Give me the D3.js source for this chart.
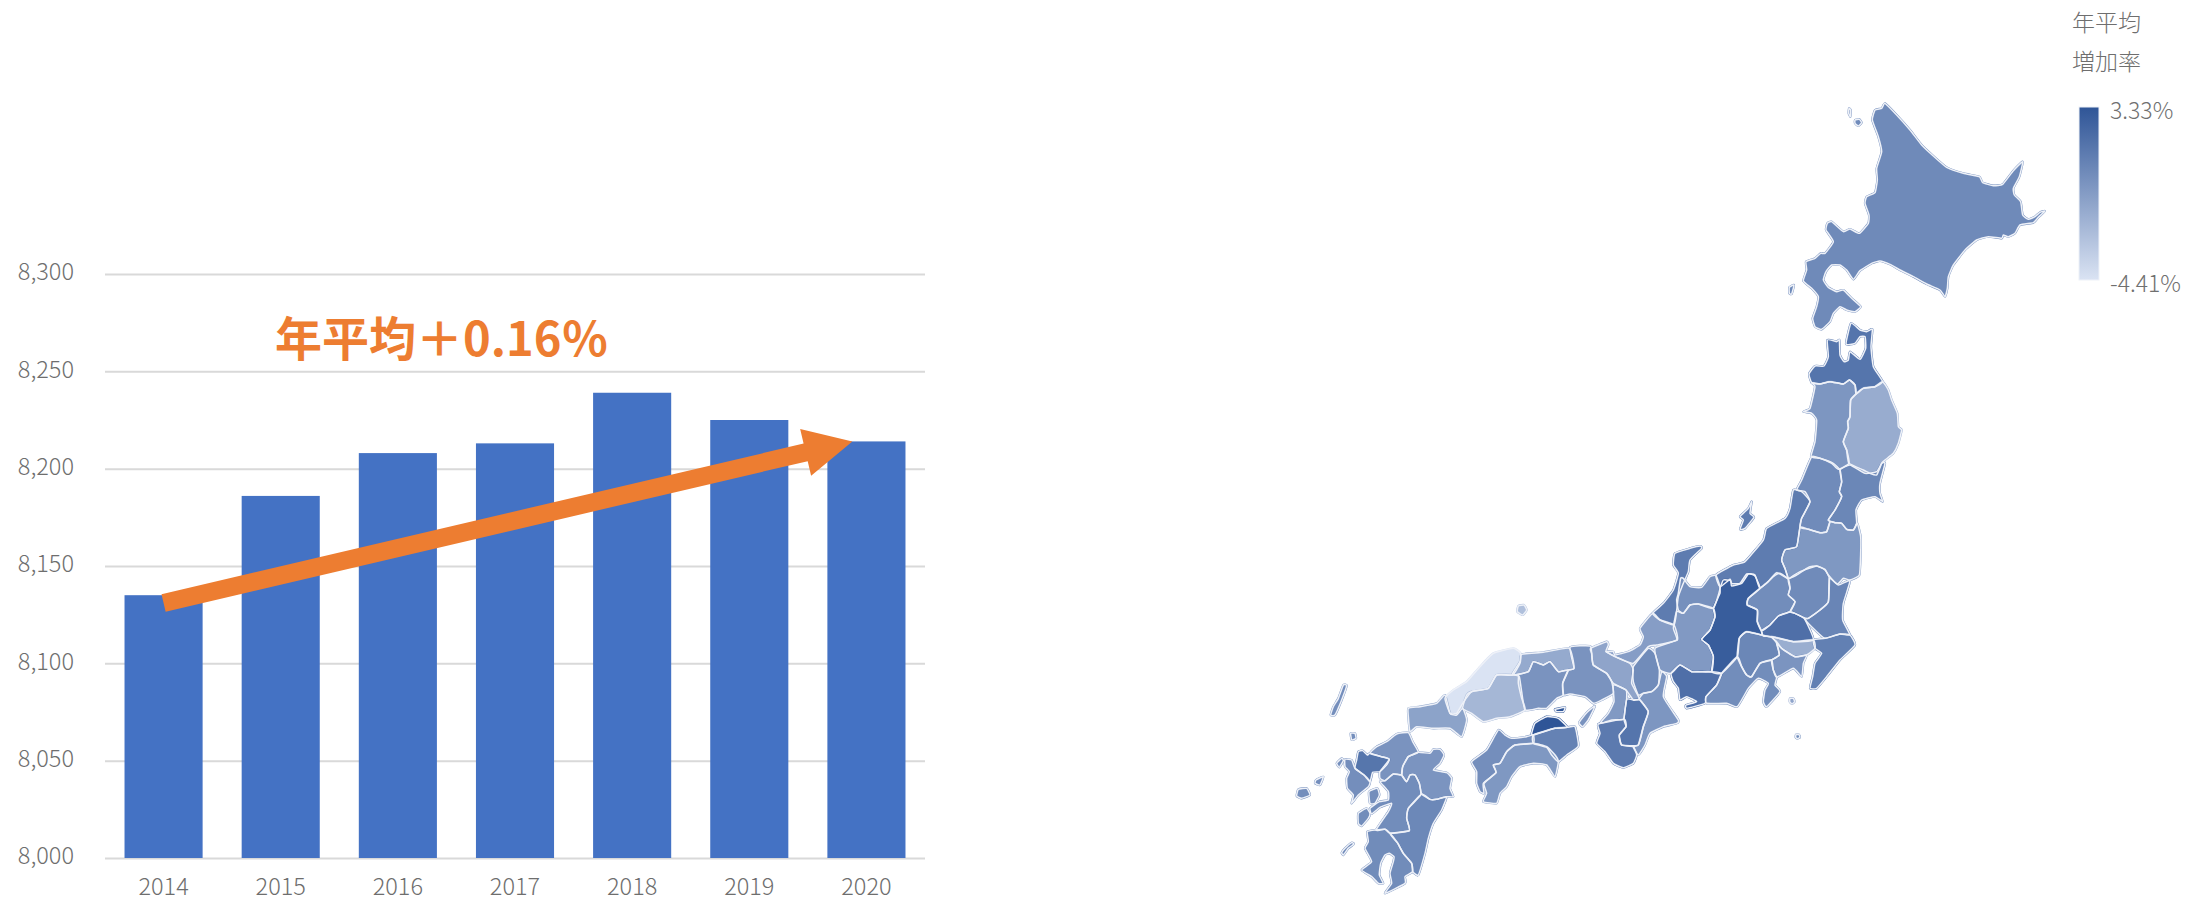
<!DOCTYPE html>
<html lang="ja"><head><meta charset="utf-8">
<script src="https://cdn.jsdelivr.net/npm/d3@7"></script>
<style>html,body{margin:0;padding:0;background:#fff;overflow:hidden}svg{display:block}
text{font-family:"Noto Sans CJK JP","Noto Sans",sans-serif}</style></head><body>
<svg id="c" width="2187" height="902"></svg>
<script>
// ---------- bar chart data ----------
const years=["2014","2015","2016","2017","2018","2019","2020"];
const visitors=[8135,8186,8208,8213,8239,8225,8214];
const yTicks=[8000,8050,8100,8150,8200,8250,8300];
const trendLabel="年平均＋0.16％";
const trendFrom=[0,8131], trendTo=[5.88,8214];
// ---------- map data (outlines traced in 3x sheets, each with its own shift) ----------
const legendTitle=["年平均","増加率"];
const legendLabels=["3.33%","-4.41%"];
const rateDomain=[-4.41,3.33];
const sheetShift={n:[600,-1080],m:[0,0],s:[-660,540],k:[-630,840],w:[-60,540],e:[480,360]};
const prefNames=["北海道","青森","秋田","岩手","山形","宮城","福島","新潟","佐渡","石川","富山","福井","岐阜","長野","群馬","栃木","茨城","埼玉","東京","千葉","神奈川","山梨","静岡","愛知","島根","鳥取","岡山","広島","山口","兵庫","淡路","京都","滋賀","大阪","奈良","和歌山","三重","香川","小豆島","徳島","愛媛","高知","福岡","佐賀","長崎","島原","対馬","壱岐","五島","五島2","平戸","大分","熊本","天草","宮崎","鹿児島","種子島","利尻","礼文","奥尻","隠岐","大島","八丈"];
const prefRates=[0.43,1.6,-0.2,-1.4,0.4,0.6,-0.3,1.2,1.2,1.2,0.1,-0.6,-0.4,2.9,0.3,0.4,0.7,1.9,-1.5,1.0,-0.1,0.6,0.3,1.9,-4.41,-1.3,-0.05,-2.0,-0.9,-0.05,-0.05,-1.0,0.35,-0.4,1.6,1.3,-0.2,3.33,3.33,0.9,0.2,-0.3,-0.05,1.55,0.2,0.2,0.2,0.2,0.2,0.2,0.2,-0.1,0.3,0.3,0.55,0.35,0.35,0.4,0.4,0.4,-2.5,-1.0,0.3];
const prefSheets=["n","n","n","n","m","m","m","m","m","m","e","m","e","e","e","e","e","e","e","e","e","e","e","e","s","w","w","s","s","w","w","w","w","w","w","w","w","w","w","w","s","s","k","k","k","k","s","k","k","k","k","k","k","k","k","k","k","n","n","n","m","m","m"];
const prefOutlines=[
[[555,70],[590,105],[630,150],[665,195],[700,228],[740,262],[790,280],[838,290],[848,308],[880,317],[908,313],[940,272],[968,245],[958,290],[940,325],[943,345],[962,365],[968,405],[985,418],[1005,410],[1020,397],[1035,393],[1015,412],[1000,428],[960,435],[945,460],[925,470],[910,465],[905,475],[865,470],[830,480],[795,510],[760,555],[745,590],[742,625],[735,650],[720,630],[680,612],[640,590],[600,570],[570,553],[540,543],[515,550],[480,572],[460,598],[440,570],[420,555],[395,555],[378,575],[370,600],[385,622],[410,635],[430,630],[455,655],[482,680],[465,695],[440,690],[420,680],[400,700],[390,725],[365,748],[345,740],[338,715],[350,680],[355,650],[335,625],[310,603],[320,570],[318,545],[345,535],[362,520],[375,520],[400,485],[378,450],[382,430],[395,425],[430,455],[450,447],[478,460],[505,430],[507,405],[495,370],[500,350],[525,338],[532,300],[530,265],[545,215],[535,170],[517,120],[525,90],[545,85]],
[[453,730],[480,750],[500,755],[517,748],[513,800],[520,860],[548,905],[525,920],[490,925],[468,942],[465,915],[448,900],[430,912],[390,905],[360,912],[335,908],[327,882],[345,858],[372,858],[385,830],[382,780],[410,785],[418,780],[420,825],[432,845],[445,840],[450,815],[480,838],[497,805],[495,770],[480,770],[465,790],[438,792]],
[[335,908],[360,912],[390,905],[430,912],[448,900],[465,915],[468,942],[452,960],[450,1010],[443,1025],[445,1045],[430,1085],[440,1110],[447,1150],[415,1168],[395,1150],[360,1135],[333,1130],[345,1085],[350,1020],[335,1000],[310,995],[330,985],[345,920]],
[[468,942],[490,925],[525,920],[548,905],[565,930],[575,960],[592,1000],[595,1040],[605,1050],[595,1090],[580,1120],[555,1140],[545,1150],[530,1185],[510,1180],[490,1170],[447,1150],[440,1110],[430,1085],[445,1045],[443,1025],[450,1010],[452,960]],
[[935,50],[960,55],[1000,70],[1020,90],[1025,125],[1018,155],[1025,170],[1005,210],[985,240],[990,245],[980,275],[960,278],[925,268],[900,262],[905,235],[930,185],[915,155],[890,150],[905,120]],
[[1020,90],[1050,75],[1095,100],[1130,95],[1145,70],[1155,70],[1140,130],[1140,160],[1148,185],[1125,170],[1085,180],[1068,210],[1070,250],[1060,270],[1040,268],[1025,250],[1005,248],[985,240],[1005,210],[1025,170],[1018,155],[1025,125]],
[[900,262],[925,268],[960,278],[980,275],[990,245],[1005,248],[1025,250],[1040,268],[1060,270],[1072,250],[1082,290],[1082,340],[1078,405],[1050,420],[1030,415],[1012,432],[985,405],[975,388],[950,378],[925,382],[890,405],[865,415],[855,385],[845,360],[855,330],[890,320]],
[[880,150],[905,155],[930,185],[905,235],[900,262],[890,320],[855,330],[845,360],[855,385],[865,415],[840,400],[820,410],[780,445],[765,405],[740,402],[720,430],[695,430],[690,418],[660,440],[648,405],[700,375],[735,365],[790,300],[800,265],[855,235],[870,205]],
[[755,185],[750,220],[762,232],[735,265],[720,268],[730,240],[720,230],[745,205]],
[[600,318],[605,325],[570,360],[565,395],[550,430],[535,470],[530,512],[522,555],[480,540],[458,520],[490,490],[520,450],[535,400],[520,375],[525,340],[570,325]],
[[55,100],[62,55],[70,55],[90,80],[125,82],[150,50],[168,47],[180,85],[160,145],[115,132],[90,135],[70,160],[55,150],[50,120]],
[[458,520],[480,540],[522,555],[532,600],[470,615],[445,620],[400,670],[350,652],[318,635],[340,635],[345,645],[385,635],[420,615],[430,590],[420,565]],
[[70,160],[90,135],[115,132],[160,145],[165,170],[150,210],[125,238],[145,255],[160,290],[155,335],[120,335],[95,335],[60,315],[33,340],[0,330],[-15,265],[50,240],[40,205],[50,155]],
[[180,85],[190,60],[212,62],[215,78],[245,70],[265,42],[285,48],[300,85],[265,115],[262,135],[292,150],[292,185],[305,215],[305,225],[260,215],[238,235],[232,290],[185,340],[155,335],[160,290],[145,255],[125,238],[150,210],[165,170],[160,145],[180,100]],
[[300,85],[325,65],[350,38],[385,58],[390,85],[385,105],[405,125],[390,155],[355,168],[330,195],[305,212],[292,185],[292,150],[262,135],[265,115]],
[[385,58],[420,35],[470,18],[495,30],[508,55],[505,125],[480,150],[445,175],[425,170],[405,160],[390,155],[405,125],[385,105],[390,85]],
[[508,55],[535,75],[570,62],[550,130],[548,180],[570,225],[540,222],[495,235],[465,210],[435,178],[445,175],[480,150],[505,125]],
[[305,212],[330,195],[355,168],[390,155],[405,160],[425,170],[435,178],[460,240],[400,245],[335,230],[310,228]],
[[335,230],[400,245],[460,240],[465,265],[440,285],[405,290],[365,265],[350,245]],
[[460,240],[495,235],[540,222],[570,225],[585,255],[540,300],[500,350],[470,385],[450,385],[458,350],[465,310],[485,280],[465,265]],
[[350,250],[365,265],[405,290],[440,285],[430,310],[425,350],[400,325],[350,352],[340,330],[335,300],[358,285]],
[[238,235],[260,215],[305,225],[335,232],[350,250],[358,285],[335,300],[300,310],[275,350],[260,345],[245,320],[232,290]],
[[185,340],[232,290],[245,320],[260,345],[275,350],[300,310],[335,300],[340,330],[350,352],[345,375],[360,395],[320,440],[310,425],[315,390],[325,370],[295,355],[265,385],[232,440],[200,430],[140,430],[138,410],[170,375]],
[[33,340],[60,315],[95,335],[120,335],[155,335],[185,340],[170,375],[138,410],[135,430],[80,445],[78,435],[110,425],[80,410],[60,420],[55,385],[40,365]],
[[700,85],[722,100],[720,130],[698,165],[650,165],[625,205],[575,215],[548,250],[530,280],[510,280],[495,235],[520,210],[560,185],[600,140],[640,100]],
[[125,103],[190,97],[268,85],[282,145],[250,152],[235,155],[210,125],[190,135],[160,125],[145,155],[105,165],[98,160],[120,125]],
[[105,165],[145,155],[160,125],[190,135],[210,125],[235,155],[265,150],[248,190],[250,225],[230,235],[200,265],[175,265],[135,270],[125,215],[118,170]],
[[650,165],[698,165],[715,165],[715,190],[725,235],[735,270],[690,290],[650,295],[610,305],[575,280],[548,265],[560,225],[575,215],[625,205]],
[[495,225],[510,280],[530,285],[548,265],[560,300],[545,350],[510,325],[460,325],[410,320],[390,335],[385,290],[385,265],[420,260],[470,250]],
[[270,82],[330,78],[335,100],[340,135],[380,160],[395,185],[400,220],[365,240],[340,250],[315,230],[270,222],[250,225],[248,190],[265,150],[282,145]],
[[345,258],[325,300],[308,320],[297,308],[320,278]],
[[335,100],[332,85],[380,65],[385,75],[378,95],[410,112],[450,130],[460,150],[455,190],[478,235],[460,240],[438,210],[400,190],[380,160],[340,135]],
[[460,140],[505,85],[525,100],[538,150],[535,195],[515,215],[490,220],[475,225],[460,185]],
[[400,195],[438,210],[440,235],[435,270],[430,298],[395,300],[360,310],[385,280],[402,245]],
[[440,238],[460,240],[480,240],[505,275],[490,320],[475,375],[425,375],[418,345],[438,320],[432,298]],
[[355,312],[432,298],[438,320],[418,345],[425,375],[460,380],[470,405],[460,430],[430,443],[400,430],[375,395],[350,370],[360,340]],
[[545,155],[560,170],[550,230],[595,300],[590,310],[550,320],[510,340],[495,375],[475,405],[460,380],[475,375],[490,320],[505,275],[480,240],[478,235],[490,220],[515,215],[535,195]],
[[155,340],[165,310],[200,290],[235,295],[262,322],[225,325],[160,345]],
[[225,268],[255,262],[250,275],[230,275]],
[[160,345],[225,325],[262,322],[285,320],[295,378],[260,405],[235,425],[215,405],[200,382],[160,370]],
[[575,425],[620,390],[655,330],[675,345],[695,355],[740,350],[760,345],[760,370],[705,375],[680,395],[660,430],[640,435],[648,458],[610,490],[612,520],[600,515],[590,490],[590,455]],
[[760,370],[800,380],[825,405],[835,425],[825,470],[800,435],[760,430],[720,440],[695,470],[680,500],[660,520],[650,550],[610,545],[620,520],[612,490],[648,458],[640,435],[660,430],[680,395],[705,375]],
[[240,100],[260,80],[290,65],[320,42],[355,38],[368,65],[385,97],[355,110],[338,140],[335,165],[310,162],[285,182],[270,175],[270,155],[298,118],[275,110]],
[[205,95],[218,92],[232,105],[240,100],[275,110],[298,118],[290,135],[270,155],[248,157],[240,185],[222,165],[195,145],[200,120]],
[[165,118],[185,120],[195,145],[222,165],[240,185],[235,200],[205,225],[185,250],[190,225],[172,205],[170,175],[178,155],[165,140]],
[[237,215],[262,205],[268,225],[255,250],[240,250]],
[[190,195],[200,197],[185,240],[165,285],[152,285],[160,260],[175,235]],
[[182,40],[195,40],[198,55],[185,60]],
[[25,208],[50,205],[60,225],[35,235],[20,228]],
[[78,180],[100,170],[90,195],[75,190]],
[[140,130],[155,115],[160,122],[148,142]],
[[385,97],[420,100],[430,88],[450,88],[462,105],[450,130],[430,150],[470,158],[485,175],[480,205],[490,230],[470,230],[440,238],[420,238],[395,222],[388,190],[375,165],[360,165],[350,185],[335,165],[338,140],[355,110]],
[[285,182],[310,162],[335,165],[350,185],[360,165],[375,165],[388,190],[392,225],[355,265],[350,295],[358,332],[300,340],[285,328],[258,330],[295,275],[305,250],[270,262],[245,282],[240,265],[268,245],[295,240],[295,215],[270,185]],
[[205,280],[230,265],[240,280],[235,295],[215,318],[205,310]],
[[395,222],[420,238],[440,238],[470,230],[455,270],[430,310],[415,355],[405,400],[385,465],[368,455],[365,430],[340,400],[322,368],[300,340],[358,332],[350,295],[355,265]],
[[232,335],[258,330],[285,328],[300,340],[322,368],[340,400],[365,430],[368,455],[345,470],[345,490],[285,520],[305,490],[300,460],[310,425],[312,410],[298,400],[285,405],[272,430],[268,465],[280,490],[265,490],[245,470],[215,450],[245,425],[225,385],[235,365]],
[[155,398],[165,385],[185,368],[192,372],[175,385],[160,405]],
[[465,120],[478,118],[485,128],[475,138],[465,130]],
[[447,85],[452,90],[451,110],[446,100]],
[[268,622],[282,615],[275,642],[268,640]],
[[55,498],[72,495],[80,510],[68,525],[52,515]],
[[870,775],[880,775],[884,785],[876,792],[869,785]],
[[888,884],[897,884],[900,892],[892,896],[887,892]]
];
// ---------- scales ----------
const svg=d3.select("#c");
const x=d3.scaleBand().domain(years).range([105,925]).paddingInner(1/3).paddingOuter(1/6);
const y=d3.scaleLinear().domain([8000,8300]).range([858,274]);
const idx=d3.scaleLinear().domain([0,6]).range([x(years[0])+x.bandwidth()/2,x(years[6])+x.bandwidth()/2]);
const grey="#6e6e6e";
const yAxis=d3.axisLeft(y).tickValues(yTicks).tickFormat(d3.format(",")).tickSize(-820).tickPadding(31);
const gy=svg.append("g").attr("transform","translate(105,0)").call(yAxis);
gy.select(".domain").remove();
gy.selectAll(".tick line").attr("stroke","#d9d9d9").attr("stroke-width",2);
gy.selectAll(".tick text").attr("fill",grey).attr("dy","0.25em").attr("font-weight",300).style("font-size","23.5px");
const xAxis=d3.axisBottom(x).tickSize(0).tickPadding(20);
const gx=svg.append("g").attr("transform","translate(0,858)").call(xAxis);
gx.select(".domain").remove();
gx.selectAll("text").attr("fill",grey).attr("font-weight",300).style("font-size","23.5px");
svg.append("g").selectAll("rect").data(years).join("rect")
 .attr("x",d=>x(d)).attr("width",x.bandwidth())
 .attr("y",(d,i)=>y(visitors[i])).attr("height",(d,i)=>y(8000)-y(visitors[i]))
 .attr("fill","#4472C4");
(function(){
 const a=[idx(trendFrom[0]),y(trendFrom[1])],b=[idx(trendTo[0]),y(trendTo[1])];
 const dx=b[0]-a[0],dy=b[1]-a[1],L=Math.hypot(dx,dy),ux=dx/L,uy=dy/L,nx=-uy,ny=ux;
 const sw=9,hw=24,hl=48;
 const n=[b[0]-ux*hl,b[1]-uy*hl];
 const p=[[a[0]+nx*sw,a[1]+ny*sw],[n[0]+nx*sw,n[1]+ny*sw],[n[0]+nx*hw,n[1]+ny*hw],b,[n[0]-nx*hw,n[1]-ny*hw],[n[0]-nx*sw,n[1]-ny*sw],[a[0]-nx*sw,a[1]-ny*sw]];
 svg.append("path").attr("d",d3.line()(p)+"Z").attr("fill","#ED7D31");
})();
svg.append("text").attr("x",275).attr("y",356).attr("fill","#ED7D31").attr("font-weight",700).style("font-size","47px").text(trendLabel);
// map
const color=d3.scaleLinear().domain(rateDomain).range(["#DAE3F3","#2F5597"]);
const proj=d3.geoIdentity().scale(1/3).translate([1500,440]);
const rings=prefOutlines.map((o,i)=>{const s=sheetShift[prefSheets[i]];
 return o.map(p=>proj([p[0]+s[0],p[1]+s[1]]));});
const outline=d3.line().curve(d3.curveCardinalClosed.tension(0.55));
const mapG=svg.append("g");
mapG.selectAll("path.land").data(rings).join("path").attr("class","land")
 .attr("d",outline).attr("fill",(d,i)=>color(prefRates[i]))
 .attr("stroke",(d,i)=>color(prefRates[i])).attr("stroke-width",2.2).attr("stroke-linejoin","round");
mapG.selectAll("path.edge").data(rings).join("path").attr("class","edge")
 .attr("d",outline).attr("fill","none")
 .attr("stroke","#eef1f8").attr("stroke-width",1.5).attr("stroke-linejoin","round");
// legend
const grad=svg.append("defs").append("linearGradient").attr("id","lg").attr("x1",0).attr("x2",0).attr("y1",0).attr("y2",1);
grad.append("stop").attr("offset","0%").attr("stop-color",color(rateDomain[1]));
grad.append("stop").attr("offset","100%").attr("stop-color",color(rateDomain[0]));
const legY=d3.scaleLinear().domain([rateDomain[1],rateDomain[0]]).range([107,280]);
svg.append("rect").attr("x",2079).attr("y",legY(rateDomain[1])).attr("width",20).attr("height",legY(rateDomain[0])-legY(rateDomain[1])).attr("fill","url(#lg)").attr("stroke","#eef1f8");
svg.append("g").selectAll("text").data(legendLabels).join("text").attr("x",2110).attr("y",(d,i)=>legY(rateDomain[1-i])+12).attr("fill","#6f6f6f").attr("font-weight",300).style("font-size","23px").text(d=>d);
svg.append("g").selectAll("text").data(legendTitle).join("text").attr("x",2072).attr("y",(d,i)=>31+i*39).attr("fill",grey).attr("font-weight",300).style("font-size","23px").text(d=>d);
</script></body></html>
